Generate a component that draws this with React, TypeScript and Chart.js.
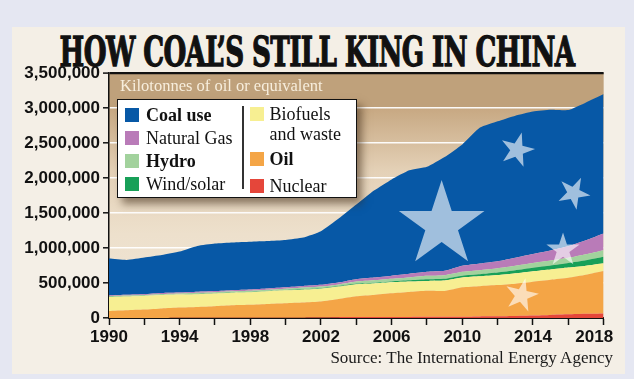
import React, { useEffect, useLayoutEffect, useRef } from "react";
import { Chart, registerables } from "chart.js";

Chart.register(...registerables);

// ---------- data (kilotonnes of oil equivalent) ----------
const years = [
  1990, 1991, 1992, 1993, 1994, 1995, 1996, 1997, 1998, 1999, 2000, 2001, 2002, 2003, 2004,
  2005, 2006, 2007, 2008, 2009, 2010, 2011, 2012, 2013, 2014, 2015, 2016, 2017, 2018,
];
const nuclear = [
  0, 0, 0, 1000, 4000, 3000, 4000, 4000, 4000, 4000, 4000, 5000, 7000, 11000, 13000, 14000,
  14000, 16000, 18000, 18000, 19000, 23000, 25000, 29000, 35000, 44000, 52000, 59000, 65000,
];
const oil = [
  100000, 110000, 120000, 135000, 145000, 155000, 165000, 178000, 184000, 196000, 206000,
  215000, 228000, 260000, 298000, 315000, 338000, 355000, 370000, 368000, 420000, 432000,
  445000, 462000, 484000, 502000, 523000, 560000, 607000,
];
const biofuels = [
  200000, 198000, 195000, 192000, 185000, 183000, 182000, 180000, 180000, 182000, 185000,
  185000, 183000, 178000, 172000, 165000, 158000, 150000, 142000, 150000, 140000, 140000,
  143000, 148000, 150000, 148000, 145000, 128000, 110000,
];
const windSolar = [
  1000, 1000, 1000, 1000, 1000, 2000, 2000, 2000, 3000, 3000, 4000, 5000, 6000, 7000, 9000,
  11000, 13000, 17000, 22000, 24000, 26000, 30000, 36000, 42000, 48000, 55000, 65000, 78000,
  92000,
];
const hydro = [
  11000, 11000, 11000, 13000, 14000, 16000, 16000, 17000, 18000, 18000, 19000, 24000, 25000,
  24000, 30000, 34000, 37000, 41000, 50000, 52000, 56000, 58000, 62000, 66000, 70000, 72000,
  74000, 85000, 95000,
];
const naturalGas = [
  13000, 13000, 13000, 14000, 14000, 15000, 16000, 17000, 18000, 19000, 21000, 23000, 25000,
  28000, 33000, 38000, 45000, 52000, 58000, 62000, 85000, 95000, 100000, 115000, 128000,
  145000, 165000, 200000, 238000,
];
const coal = [
  525000, 497000, 525000, 544000, 587000, 656000, 680000, 682000, 683000, 678000, 676000,
  693000, 766000, 912000, 1065000, 1243000, 1375000, 1479000, 1500000, 1626000, 1734000,
  1942000, 1999000, 2028000, 2035000, 2009000, 1946000, 1970000, 1993000,
];
const yTicks = [0, 500000, 1000000, 1500000, 2000000, 2500000, 3000000, 3500000];

const seriesNames = ["Nuclear", "Oil", "Biofuels and waste", "Wind/solar", "Hydro", "Natural Gas", "Coal use"];
const seriesColors = ["#e5463a", "#f4a546", "#f7ef92", "#18a058", "#a2d29d", "#b97bb8", "#0758a6"];

// decorative stars, placed in data space: [year, value, outer radius px, rotation deg]
const stars: [number, number, number, number][] = [
  [2008.83, 1330000, 45, 0],
  [2013.1, 2400000, 18, 15],
  [2016.3, 1785000, 17, 26],
  [2015.7, 971000, 17.5, 0],
  [2013.35, 324000, 17.5, 13],
];

const TITLE = "HOW COAL\u2019S STILL KING IN CHINA";

function drawStar(ctx: CanvasRenderingContext2D, cx: number, cy: number, R: number, rotDeg: number) {
  const r = R * 0.382;
  const rot = (rotDeg * Math.PI) / 180;
  ctx.beginPath();
  for (let i = 0; i < 10; i++) {
    const rad = i % 2 === 0 ? R : r;
    const a = -Math.PI / 2 + rot + (i * Math.PI) / 5;
    const x = cx + rad * Math.cos(a);
    const y = cy + rad * Math.sin(a);
    if (i === 0) ctx.moveTo(x, y);
    else ctx.lineTo(x, y);
  }
  ctx.closePath();
  ctx.fill();
}

const bgPlugin = {
  id: "plotBg",
  beforeDraw(chart: any) {
    const { ctx, chartArea } = chart;
    const y = chart.scales.y;
    const bandBottom = y.getPixelForValue(3000000);
    ctx.save();
    ctx.fillStyle = "#bfa17b";
    ctx.fillRect(chartArea.left, chartArea.top, chartArea.right - chartArea.left, bandBottom - chartArea.top);
    const g = ctx.createLinearGradient(0, bandBottom, 0, chartArea.bottom);
    g.addColorStop(0, "#c7a882");
    g.addColorStop(0.3, "#e4d1b7");
    g.addColorStop(0.6, "#ede0cc");
    g.addColorStop(1, "#f0e6d7");
    ctx.fillStyle = g;
    ctx.fillRect(chartArea.left, bandBottom, chartArea.right - chartArea.left, chartArea.bottom - bandBottom);
    ctx.restore();
  },
  afterDatasetsDraw(chart: any) {
    const { ctx } = chart;
    const xs = chart.scales.x;
    const ys = chart.scales.y;
    ctx.save();
    ctx.fillStyle = "rgba(255,255,255,0.62)";
    for (const [yr, val, R, rot] of stars) {
      const cx = xs.getPixelForValue(yr - years[0]);
      const cy = ys.getPixelForValue(val);
      drawStar(ctx, cx, cy, R, rot);
    }
    ctx.restore();
  },
};

const legendLeft = [
  { name: "Coal use", color: seriesColors[6], bold: true, cy: 14.5 },
  { name: "Natural Gas", color: seriesColors[5], bold: false, cy: 37.5 },
  { name: "Hydro", color: seriesColors[4], bold: true, cy: 60.5 },
  { name: "Wind/solar", color: seriesColors[3], bold: false, cy: 84 },
];
const legendRight = [
  { name: "Biofuels", name2: "and waste", color: seriesColors[2], bold: false, cy: 14 },
  { name: "Oil", color: seriesColors[1], bold: true, cy: 59 },
  { name: "Nuclear", color: seriesColors[0], bold: false, cy: 85.5 },
];

export default function App() {
  const canvasRef = useRef<HTMLCanvasElement>(null);
  const titleRef = useRef<HTMLSpanElement>(null);

  useLayoutEffect(() => {
    const el = titleRef.current;
    if (!el) return;
    const w = el.offsetWidth;
    if (w > 0) el.style.transform = `translateX(-50%) scaleX(${515 / w})`;
  }, []);

  useEffect(() => {
    const canvas = canvasRef.current;
    if (!canvas) return;
    const dataSets = [nuclear, oil, biofuels, windSolar, hydro, naturalGas, coal];
    const chart = new Chart(canvas, {
      type: "line",
      data: {
        labels: years.map(String),
        datasets: dataSets.map((d, i) => ({
          label: seriesNames[i],
          data: d,
          backgroundColor: seriesColors[i],
          borderColor: "rgba(0,0,0,0)",
          borderWidth: 0,
          pointRadius: 0,
          pointHoverRadius: 0,
          tension: 0.15,
          fill: i === 0 ? "origin" : "-1",
        })),
      },
      options: {
        responsive: false,
        animation: false,
        devicePixelRatio: 1,
        layout: { padding: { left: 0, top: 73, right: 27, bottom: 0 } },
        plugins: { legend: { display: false }, tooltip: { enabled: false } },
        scales: {
          x: {
            type: "category",
            offset: false,
            z: 1,
            afterFit: (s: any) => {
              s.height = 61;
            },
            grid: {
              drawOnChartArea: false,
              drawTicks: true,
              tickLength: 7,
              tickWidth: 1.5,
              tickColor: (c: any) => (c.index % 2 === 0 ? "#111" : "rgba(0,0,0,0)"),
            },
            border: { display: true, color: "#111", width: 2 },
            ticks: {
              autoSkip: false,
              maxRotation: 0,
              minRotation: 0,
              padding: 2,
              color: "#111",
              font: { family: "'Liberation Sans', Arial, sans-serif", weight: "bold", size: 17 },
              callback: (_v: any, i: number) =>
                i % 4 === 0 ? (i === years.length - 1 ? String(years[i]) + "\u00a0\u00a0\u00a0\u00a0" : String(years[i])) : "",
            },
          },
          y: {
            stacked: true,
            min: 0,
            max: 3500000,
            z: 1,
            afterFit: (s: any) => {
              s.width = 109;
            },
            afterBuildTicks: (s: any) => {
              s.ticks = yTicks.map((v) => ({ value: v }));
            },
            grid: {
              drawTicks: true,
              tickLength: 6,
              tickColor: "#111",
              tickWidth: 1.5,
              color: (c: any) => (c.tick && (c.tick.value === 3500000 || c.tick.value === 0) ? "#111" : "rgba(255,255,255,0.95)"),
              lineWidth: (c: any) => (c.tick && c.tick.value === 3500000 ? 2.2 : 1.6),
            },
            border: { display: true, color: "#111", width: 1.5 },
            ticks: {
              padding: 3,
              color: "#111",
              font: { family: "'Liberation Sans', Arial, sans-serif", weight: "bold", size: 17 },
              callback: (v: any) => Number(v).toLocaleString("en-US"),
            },
          },
        },
      },
      plugins: [bgPlugin],
    } as any);
    return () => chart.destroy();
  }, []);

  const serif = "'Liberation Serif', 'Times New Roman', serif";
  const sw = (color: string, cy: number, left: number) => (
    <div style={{ position: "absolute", left, top: cy - 7, width: 14, height: 14, background: color }} />
  );
  const txt = (t: string, cy: number, left: number, bold: boolean) => (
    <div
      style={{
        position: "absolute",
        left,
        top: cy - 10,
        height: 20,
        lineHeight: "20px",
        fontFamily: serif,
        fontSize: 18,
        fontWeight: bold ? 700 : 400,
        color: "#111",
        whiteSpace: "nowrap",
      }}
    >
      {t}
    </div>
  );

  return (
    <div style={{ position: "fixed", left: 0, top: 0, width: 634, height: 379, background: "#e5e7f2", overflow: "hidden" }}>
      <div style={{ position: "absolute", left: 12, top: 27, width: 613, height: 347, background: "#f4efe6" }} />
      <span
        ref={titleRef}
        style={{
          position: "absolute",
          left: 316.5,
          top: 32,
          display: "inline-block",
          lineHeight: "41px",
          height: 41,
          fontFamily: "'DejaVu Serif', serif",
          fontWeight: 700,
          fontSize: 41,
          color: "#111",
          whiteSpace: "nowrap",
          transformOrigin: "center",
          letterSpacing: "-1px",
          WebkitTextStroke: "1.3px #111",
        }}
      >
        {TITLE}
      </span>
      <canvas ref={canvasRef} width={634} height={379} style={{ position: "absolute", left: 0, top: 0 }} />
      <div
        style={{
          position: "absolute",
          left: 120,
          top: 76,
          lineHeight: "20px",
          fontFamily: serif,
          fontSize: 16.5,
          color: "#f7eedd",
          whiteSpace: "nowrap",
        }}
      >
        Kilotonnes of oil or equivalent
      </div>
      <div
        style={{
          position: "absolute",
          left: 117,
          top: 99,
          width: 240,
          height: 99,
          boxSizing: "border-box",
          background: "#ffffff",
          border: "1.5px solid #111",
          boxShadow: "5px 6px 8px rgba(60,40,20,0.55)",
        }}
      >
        {legendLeft.map((e) => (
          <React.Fragment key={e.name}>
            {sw(e.color, e.cy, 7)}
            {txt(e.name, e.cy, 28, e.bold)}
          </React.Fragment>
        ))}
        <div style={{ position: "absolute", left: 124, top: 6, width: 1.5, height: 83, background: "#333" }} />
        {legendRight.map((e) => (
          <React.Fragment key={e.name}>
            {sw(e.color, e.cy, 131.5)}
            {txt(e.name, e.cy, 151.5, e.bold)}
            {e.name2 ? txt(e.name2, e.cy + 19.5, 151.5, false) : null}
          </React.Fragment>
        ))}
      </div>
      <div
        style={{
          position: "absolute",
          right: 21,
          top: 348,
          lineHeight: "20px",
          fontFamily: serif,
          fontSize: 17,
          color: "#1a1a1a",
          whiteSpace: "nowrap",
        }}
      >
        Source: The International Energy Agency
      </div>
    </div>
  );
}
